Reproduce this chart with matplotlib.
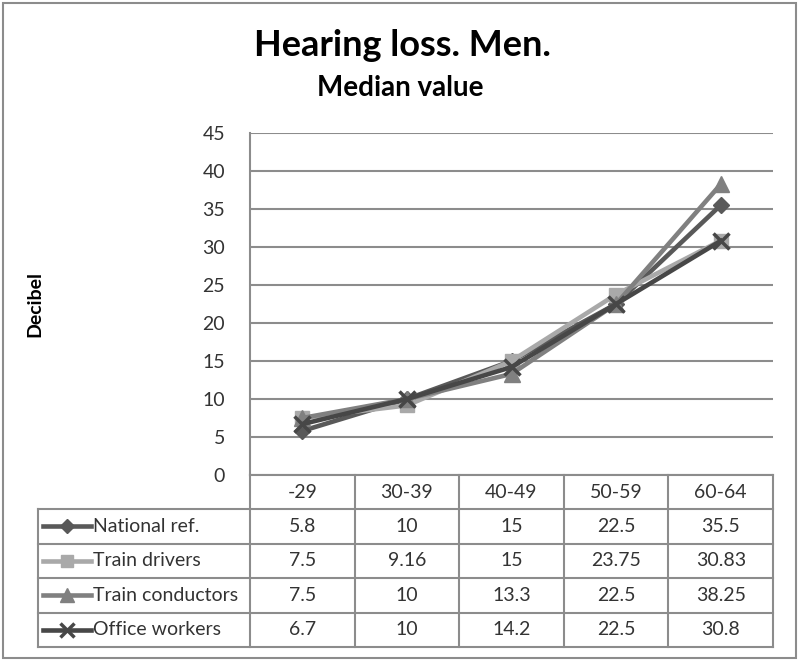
import numpy as np
import matplotlib.pyplot as plt
from matplotlib.lines import Line2D
from matplotlib.transforms import blended_transform_factory

plt.rcParams['font.family'] = ['Lato', 'DejaVu Sans']

categories = ['-29', '30-39', '40-49', '50-59', '60-64']
series_names = ['National ref.', 'Train drivers', 'Train conductors', 'Office workers']
national_ref = [5.8, 10, 15, 22.5, 35.5]
train_drivers = [7.5, 9.16, 15, 23.75, 30.83]
train_conductors = [7.5, 10, 13.3, 22.5, 38.25]
office_workers = [6.7, 10, 14.2, 22.5, 30.8]
series_values = [national_ref, train_drivers, train_conductors, office_workers]

colors = ['#595959', '#a9a9a9', '#808080', '#474747']
markers = ['D', 's', '^', 'x']
msizes = [8, 10, 11, 11]
grid_c = '#8c8c8c'
text_c = '#333333'

W, H = 800, 661
fig = plt.figure(figsize=(W / 100, H / 100), dpi=100)

# plot area in pixels
px_l, px_r, px_t, px_b = 250, 773, 133, 475
ax = fig.add_axes([px_l / W, 1 - px_b / H, (px_r - px_l) / W, (px_b - px_t) / H])

def ax_x(px):
    return (px - px_l) / (px_r - px_l)

def ax_y(py):
    return (px_b - py) / (px_b - px_t)

x = np.arange(len(categories))
for vals, c, m, ms in zip(series_values, colors, markers, msizes):
    ax.plot(x, vals, color=c, lw=3.3, marker=m, ms=ms, mew=2.5 if m == 'x' else 1,
            mec=c, mfc=c, zorder=3, clip_on=False)

ax.set_xlim(-0.5, len(categories) - 0.5)
ax.set_ylim(0, 45)
ax.set_yticks(np.arange(0, 46, 5))
ax.set_xticks([])
ax.yaxis.grid(True, color=grid_c, lw=1.5)
ax.set_axisbelow(True)
for s in ['top', 'right', 'bottom']:
    ax.spines[s].set_visible(False)
ax.spines['left'].set_color(grid_c)
ax.spines['left'].set_linewidth(1.5)
ax.tick_params(axis='y', length=0, pad=18, labelsize=14, labelcolor=text_c)

ax.set_ylabel('Decibel', fontsize=14, fontweight='bold')
ax.yaxis.set_label_coords(ax_x(43), 0.5)

# data table under the plot
tr_x = blended_transform_factory(ax.transData, ax.transAxes)
head_top, head_bot, tab_bot = ax_y(475), ax_y(509), ax_y(647)
row_tops = np.linspace(head_bot, tab_bot, len(series_names) + 1)
left_x = ax_x(38)

def seg(xs, ys):
    ax.add_line(Line2D(xs, ys, transform=ax.transAxes, color=grid_c, lw=1.5,
                       clip_on=False))

seg([0, 1], [head_top, head_top])
for yy in row_tops:
    seg([left_x, 1], [yy, yy])
seg([left_x, left_x], [head_bot, tab_bot])
for k in range(len(categories) + 1):
    xx = k / len(categories)
    seg([xx, xx], [head_top, tab_bot])

for j, cat in enumerate(categories):
    ax.text(j, (head_top + head_bot) / 2, cat, transform=tr_x, fontsize=14,
            color=text_c, ha='center', va='center')

for i, (name, vals, c, m, ms) in enumerate(zip(series_names, series_values,
                                                colors, markers, msizes)):
    yc = (row_tops[i] + row_tops[i + 1]) / 2
    for j, v in enumerate(vals):
        ax.text(j, yc, f'{v:g}', transform=tr_x, fontsize=14, color=text_c,
                ha='center', va='center')
    # legend key
    ax.add_line(Line2D([ax_x(43), ax_x(91)], [yc, yc], transform=ax.transAxes,
                       color=c, lw=3.3, clip_on=False))
    ax.add_line(Line2D([ax_x(67)], [yc], transform=ax.transAxes, color=c, marker=m,
                       ms=ms * 0.9, mew=2.5 if m == 'x' else 1, mec=c, mfc=c,
                       clip_on=False))
    ax.text(ax_x(93), yc, name, transform=ax.transAxes, fontsize=14, color=text_c,
            ha='left', va='center')

fig.text(402 / W, 1 - 45 / H, 'Hearing loss. Men.', fontsize=26, fontweight='bold',
         ha='center', va='center')
fig.text(400 / W, 1 - 88 / H, 'Median value', fontsize=20, fontweight='bold',
         ha='center', va='center')

# outer chart border
fig.add_artist(plt.Rectangle((3 / W, 1 - 658 / H), 793 / W, 655 / H, fill=False,
                             edgecolor=grid_c, lw=1.5, transform=fig.transFigure))

fig.savefig('out.png', dpi=100, facecolor='white')
